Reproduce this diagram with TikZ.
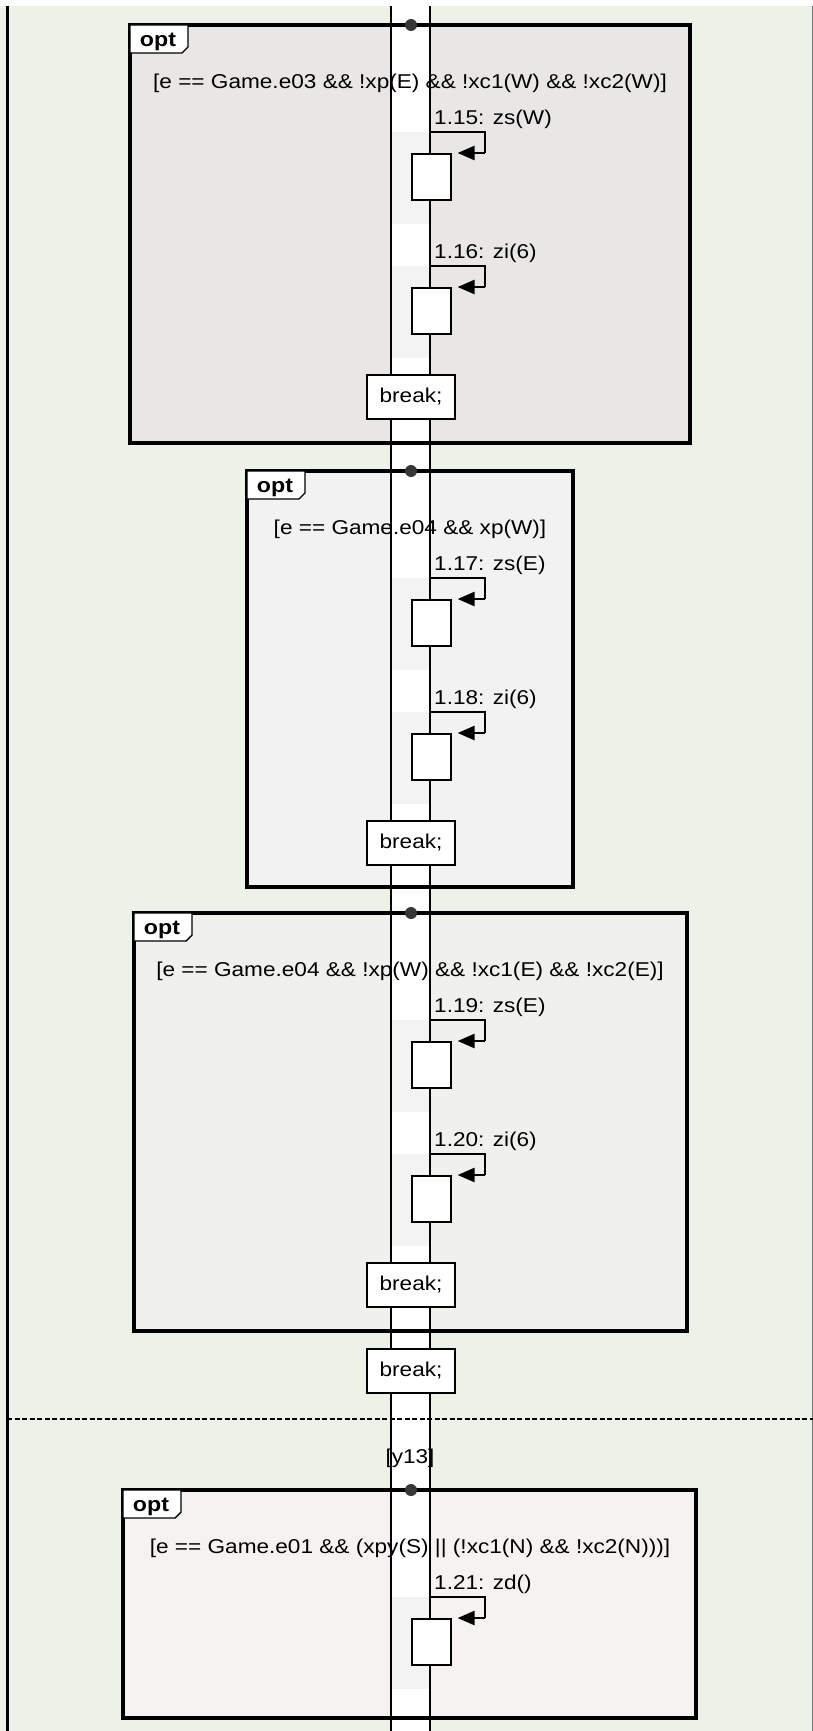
\documentclass[tikz,border=0pt]{standalone}
\usepackage{fontspec}
\newfontfamily\uif[FakeStretch=1.13]{Liberation Sans}
\usetikzlibrary{arrows.meta}
\definecolor{bg}{RGB}{236,242,231}
\definecolor{fA}{RGB}{233,230,230}
\definecolor{fB}{RGB}{242,242,242}
\definecolor{fC}{RGB}{240,240,236}
\definecolor{fD}{RGB}{247,242,242}
\definecolor{dotc}{RGB}{55,55,55}
\definecolor{edgec}{RGB}{120,120,120}
\definecolor{patch}{RGB}{243,243,243}
\tikzset{
  txt/.style={font=\uif\fontsize{20}{22}\selectfont, inner sep=0pt},
  optlbl/.style={font=\uif\bfseries\fontsize{20.5}{22}\selectfont, inner sep=0pt, anchor=base},
  frameline/.style={line width=3.3pt},
  tabbox/.style={fill=white, draw=black, line width=1.4pt},
  lifel/.style={line width=1.6pt},
  actbox/.style={draw, fill=white, line width=1.6pt, minimum width=39pt, minimum height=46pt, inner sep=0pt, anchor=north west},
  brk/.style={draw, fill=white, line width=1.6pt, minimum width=88pt, minimum height=44pt, inner sep=0pt, txt},
  msg/.style={line width=2.6pt, -{Triangle[length=17pt,width=14pt]}, shorten >=6pt},
  dotst/.style={fill=dotc},
}
% frame body: name, left, right, top, bottom, guard
\newcommand\optbody[6]{%
  \draw[frameline] (#2,#4) rectangle (#3,#5);
  \draw[tabbox] (#2,#4) -- ({#2+58},#4) -- ({#2+58},{#4+22}) -- ({#2+52},{#4+28}) -- (#2,{#4+28}) -- cycle;
  \node[optlbl] (#1tab) at ({#2+28},{#4+21.5}) {opt};
  \node[txt] (#1guard) at (410,{#4+58}) {#6};
}
% band patch beside an activation: label y
\newcommand\bandpatch[1]{%
  \fill[patch] (392,{#1+13}) rectangle (429,{#1+105});
}
% self call: name, label y, label
\newcommand\selfcall[3]{%
  \node[txt, anchor=west] (#1lbl) at (434,#2) {#3};
  \coordinate (#1src) at (430,{#2+13});
  \node[actbox] (#1act) at (411,{#2+34}) {};
  \draw[line width=1.6pt] (#1src) -- (485,{#2+13}) -- (485,{#2+34}) coordinate (#1turn);
  \draw[msg] (#1turn) -- (#1act.north east);
}
\begin{document}
\begin{tikzpicture}[x=1pt,y=-1pt]
\useasboundingbox (0,0) rectangle (813,1731);
\fill[white] (0,0) rectangle (813,1731);
\fill[bg] (0,6) rectangle (813,1731);
% frame fills
\fill[fA] (130,25) rectangle (690,443);
\fill[fB] (247,471) rectangle (573,887);
\fill[fC] (134,913) rectangle (687,1331);
\fill[fD] (123,1490) rectangle (696,1718);
% lifeline band
\fill[white] (391,6) rectangle (430,1731);
\bandpatch{119}\bandpatch{253}\bandpatch{565}\bandpatch{699}
\bandpatch{1007}\bandpatch{1141}\bandpatch{1584}
% edges
\draw[line width=3pt] (7,6) -- (7,1731);
\draw[edgec, line width=1pt] (812,6) -- (812,1731);
% frames
\optbody{fa}{130}{690}{25}{443}{[e == Game.e03 \&\& !xp(E) \&\& !xc1(W) \&\& !xc2(W)]}
\optbody{fb}{247}{573}{471}{887}{[e == Game.e04 \&\& xp(W)]}
\optbody{fc}{134}{687}{913}{1331}{[e == Game.e04 \&\& !xp(W) \&\& !xc1(E) \&\& !xc2(E)]}
\optbody{fd}{123}{696}{1490}{1718}{[e == Game.e01 \&\& (xpy(S) || (!xc1(N) \&\& !xc2(N)))]}
% lifeline lines
\draw[lifel] (391,6) -- (391,1731);
\draw[lifel] (430,6) -- (430,1731);
% self calls
\selfcall{m15}{119}{1.15: zs(W)}
\selfcall{m16}{253}{1.16: zi(6)}
\selfcall{m17}{565}{1.17: zs(E)}
\selfcall{m18}{699}{1.18: zi(6)}
\selfcall{m19}{1007}{1.19: zs(E)}
\selfcall{m20}{1141}{1.20: zi(6)}
\selfcall{m21}{1584}{1.21: zd()}
% breaks
\node[brk] (b1) at (411,397) {break;};
\node[brk] (b2) at (411,843) {break;};
\node[brk] (b3) at (411,1285) {break;};
\node[brk] (b4) at (411,1371) {break;};
% dashed separator
\coordinate (sepL) at (7,1419);
\coordinate (sepR) at (813,1419);
\draw[line width=1.8pt, dash pattern=on 5pt off 2.5pt] (sepL) -- (sepR);
\node[txt] (y13) at (410,1458) {[y13]};
% dots
\fill[dotst] (411,25) circle (6pt);
\fill[dotst] (411,471) circle (6pt);
\fill[dotst] (411,913) circle (6pt);
\fill[dotst] (411,1490) circle (6pt);
\end{tikzpicture}
\end{document}
